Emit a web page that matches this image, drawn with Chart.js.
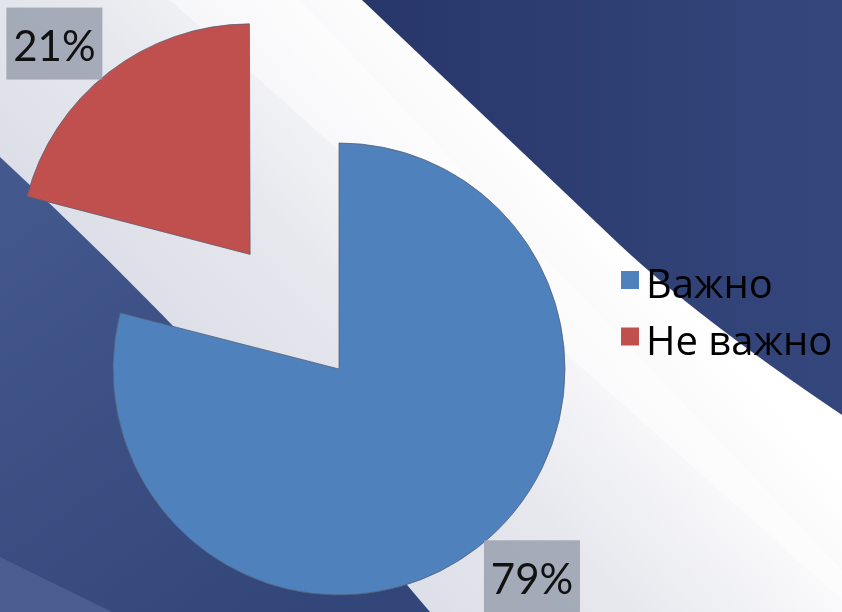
<!DOCTYPE html>
<html><head><meta charset="utf-8">
<script src="https://cdn.jsdelivr.net/npm/chart.js@4.4.0/dist/chart.umd.min.js"></script>
<style>html,body{margin:0;padding:0;background:#fff;}#wrap{width:842px;height:612px;position:relative;overflow:hidden}</style>
</head><body><div id="wrap"><canvas id="c" width="842" height="612"></canvas></div>
<script>
const categories = ['Важно', 'Не важно'];
const values = [79, 21];
const sliceColors = ['#4f81bd', '#c0504d'];
const explode = [0, 580];

const LEGEND_FONT = '40px "Open Sans", sans-serif';
const LABEL_FONT = '42px Lato, "Open Sans", sans-serif';

const backgroundPlugin = {
  id: 'bg',
  beforeDraw(chart) {
    const ctx = chart.ctx, W = chart.width, H = chart.height;
    ctx.save();
    let g = ctx.createLinearGradient(230, 470, 560, 170);
    g.addColorStop(0, '#dadce6');
    g.addColorStop(0.45, '#e7e8ee');
    g.addColorStop(0.78, '#f8f8fa');
    g.addColorStop(1, '#ffffff');
    ctx.fillStyle = g;
    ctx.fillRect(0, 0, W, H);
    ctx.fillStyle = 'rgba(255,255,255,0.45)';
    ctx.beginPath();
    ctx.moveTo(170, 0); ctx.lineTo(300, 0); ctx.lineTo(842, 570); ctx.lineTo(842, 600); ctx.closePath();
    ctx.fill();
    g = ctx.createLinearGradient(360, 0, 842, 0);
    g.addColorStop(0, '#28366a');
    g.addColorStop(1, '#34477c');
    ctx.fillStyle = g;
    ctx.beginPath();
    ctx.moveTo(362, 0);
    ctx.lineTo(620, 245);
    ctx.quadraticCurveTo(698, 318, 842, 415);
    ctx.lineTo(842, 0);
    ctx.closePath();
    ctx.fill();
    g = ctx.createLinearGradient(0, 200, 300, 612);
    g.addColorStop(0, '#43588d');
    g.addColorStop(1, '#33467a');
    ctx.fillStyle = g;
    ctx.beginPath();
    ctx.moveTo(0, 157);
    ctx.quadraticCurveTo(215, 355, 430, 612);
    ctx.lineTo(0, 612);
    ctx.closePath();
    ctx.fill();
    ctx.fillStyle = '#4a5e92';
    ctx.beginPath();
    ctx.moveTo(0, 557); ctx.lineTo(112, 612); ctx.lineTo(0, 612); ctx.closePath();
    ctx.fill();
    ctx.restore();
  }
};

const labelPlugin = {
  id: 'pctLabels',
  afterDatasetsDraw(chart) {
    const meta = chart.getDatasetMeta(0);
    const total = values.reduce((a, b) => a + b, 0);
    const ctx = chart.ctx;
    ctx.save();
    meta.data.forEach((arc, i) => {
      const p = arc.getProps(['x', 'y', 'startAngle', 'endAngle', 'outerRadius', 'circumference'], true);
      const mid = (p.startAngle + p.endAngle) / 2;
      const off = (arc.options.offset || 0) / 4;
      const fix = 1 - Math.sin(Math.min(Math.PI, p.circumference || 0));
      const t = off * (1 + fix);
      const cx = p.x + Math.cos(mid) * t, cy = p.y + Math.sin(mid) * t;
      const a = mid - 0.09, d = p.outerRadius * 1.253;
      const lx = cx + Math.cos(a) * d, ly = cy + Math.sin(a) * d;
      const txt = Math.round(values[i] / total * 100) + '%';
      const bw = 96, bh = 72;
      ctx.fillStyle = 'rgba(150,158,172,0.82)';
      ctx.fillRect(lx - bw / 2, ly - bh / 2, bw, bh);
      ctx.fillStyle = '#111111';
      ctx.font = LABEL_FONT;
      ctx.textAlign = 'center';
      ctx.textBaseline = 'alphabetic';
      ctx.fillText(txt, lx, ly + 17.5);
    });
    ctx.restore();
  }
};

const legendPlugin = {
  id: 'sideLegend',
  afterDraw(chart) {
    const ctx = chart.ctx;
    const x0 = chart.chartArea.right - 57, y0 = 271, gap = 56.5, box = 18;
    ctx.save();
    ctx.font = LEGEND_FONT;
    ctx.textAlign = 'left';
    ctx.textBaseline = 'alphabetic';
    categories.forEach((lab, i) => {
      const y = y0 + i * gap;
      ctx.fillStyle = sliceColors[i];
      ctx.fillRect(x0, y, box, box);
      ctx.fillStyle = '#000000';
      ctx.fillText(lab, x0 + 25, y + 27);
    });
    ctx.restore();
  }
};

new Chart(document.getElementById('c'), {
  type: 'pie',
  data: {
    labels: categories,
    datasets: [{
      data: values,
      backgroundColor: sliceColors,
      borderColor: 'rgba(85,95,115,0.75)',
      borderWidth: 1,
      offset: explode,
      hoverOffset: 0,
      radius: 226,
      cutout: '0%',
      clip: false
    }]
  },
  options: {
    responsive: false,
    animation: false,
    events: [],
    layout: { padding: { left: 0, right: 164, top: 126, bottom: 0 } },
    plugins: { legend: { display: false }, tooltip: { enabled: false } }
  },
  plugins: [backgroundPlugin, labelPlugin, legendPlugin]
});
</script>
</body></html>
